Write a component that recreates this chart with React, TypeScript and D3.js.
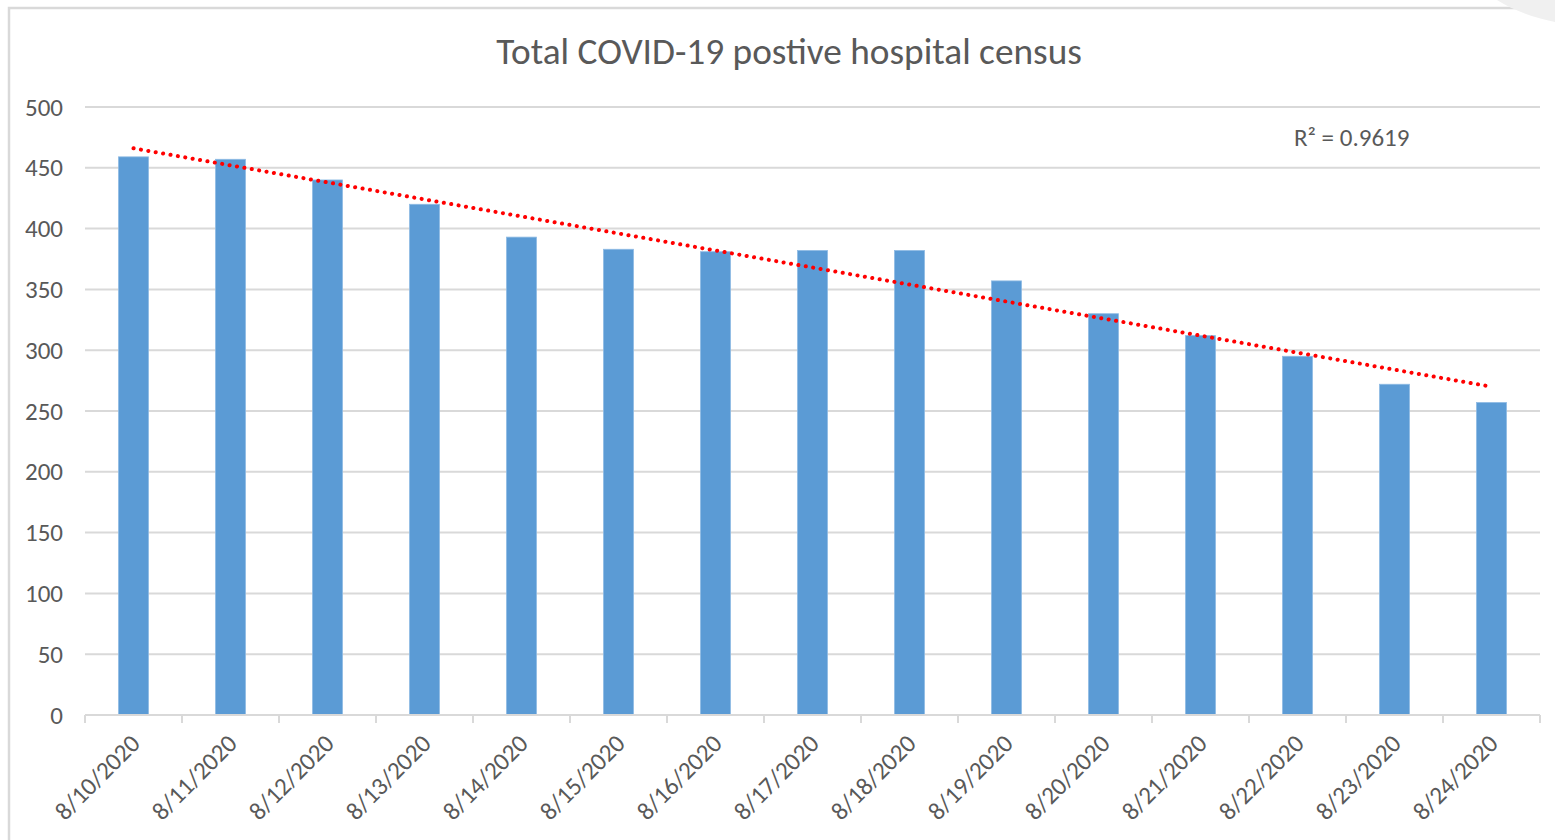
import React from "react";
import * as d3 from "d3";

const categories = ["8/10/2020","8/11/2020","8/12/2020","8/13/2020","8/14/2020","8/15/2020","8/16/2020","8/17/2020","8/18/2020","8/19/2020","8/20/2020","8/21/2020","8/22/2020","8/23/2020","8/24/2020"];
const censusValues = [459, 457, 440, 420, 393, 383, 381, 382, 382, 357, 330, 312, 295, 272, 257];
const yTicks = [0, 50, 100, 150, 200, 250, 300, 350, 400, 450, 500];
const titleText = "Total COVID-19 postive hospital census";
const rSquaredLabel = "R² = 0.9619";

const W = 1555, H = 840;
const plot = { left: 85, right: 1540, top: 107, bottom: 715 };
const FONT = "Calibri, Carlito, 'Open Sans', 'Noto Sans', sans-serif";
const TEXT = "#595959";
const GRID = "#d9d9d9";

export default function App() {
  const x = d3.scaleBand<string>().domain(categories).range([plot.left, plot.right]).paddingInner(0.69).paddingOuter(0.345);
  const band = d3.scaleBand<string>().domain(categories).range([plot.left, plot.right]);
  const y = d3.scaleLinear().domain([0, 500]).range([plot.bottom, plot.top]);

  // linear regression trend
  const n = censusValues.length;
  const xs = censusValues.map((_, i) => i);
  const mx = d3.mean(xs)!;
  const my = d3.mean(censusValues)!;
  const sxy = d3.sum(xs.map((xi, i) => (xi - mx) * (censusValues[i] - my)));
  const sxx = d3.sum(xs.map((xi) => (xi - mx) ** 2));
  const slope = sxy / sxx;
  const intercept = my - slope * mx;
  const cx = (i: number) => (x(categories[i]) as number) + x.bandwidth() / 2;
  const trend = d3.line<number>().x((i) => cx(i)).y((i) => y(intercept + slope * i));

  const boundaries = d3.range(n + 1).map((i) => plot.left + i * band.step());

  return (
    <svg width={W} height={H} style={{ position: "absolute", left: 0, top: 0, display: "block", background: "#fff" }}>
      <rect x={0} y={0} width={W} height={H} fill="#fff" />
      <path d={`M9,${H + 5} L9,8 L${W + 5},8`} fill="none" stroke={GRID} strokeWidth={2.5} />
      <path d={`M1497,0 L1555,0 L1555,22 C1535,18 1512,10 1497,0 Z`} fill="#f0f0f0" />
      <text x={789} y={64} textAnchor="middle" fontFamily={FONT} fontSize={37.3} fill={TEXT}>{titleText}</text>
      {yTicks.map((t) => (
        <g key={t}>
          {t > 0 && <line x1={plot.left} x2={plot.right} y1={y(t)} y2={y(t)} stroke={GRID} strokeWidth={2} />}
          <text x={63} y={y(t) + 8.5} textAnchor="end" fontFamily={FONT} fontSize={25} fill={TEXT}>{t}</text>
        </g>
      ))}
      {categories.map((c, i) => (
        <rect key={c} x={x(c)} y={y(censusValues[i])} width={x.bandwidth()} height={y(0) - y(censusValues[i])} fill="#5b9bd5" stroke="#8fbbe4" strokeWidth={0.8} />
      ))}
      <line x1={plot.left} x2={plot.right} y1={plot.bottom} y2={plot.bottom} stroke={GRID} strokeWidth={2} />
      {boundaries.map((bx, i) => (
        <line key={i} x1={bx} x2={bx} y1={plot.bottom} y2={plot.bottom + 8} stroke={GRID} strokeWidth={2} />
      ))}
      {categories.map((c, i) => (
        <text key={c} transform={`translate(${cx(i) + 8},${plot.bottom + 30}) rotate(-45)`} textAnchor="end" fontFamily={FONT} fontSize={25} fill={TEXT}>{c}</text>
      ))}
      <path d={trend(xs) || ""} fill="none" stroke="#ff0000" strokeWidth={4} strokeLinecap="round" strokeDasharray="0.1 7.4" />
      <text x={1294} y={146} fontFamily={FONT} fontSize={25} fill={TEXT}>{rSquaredLabel}</text>
    </svg>
  );
}
